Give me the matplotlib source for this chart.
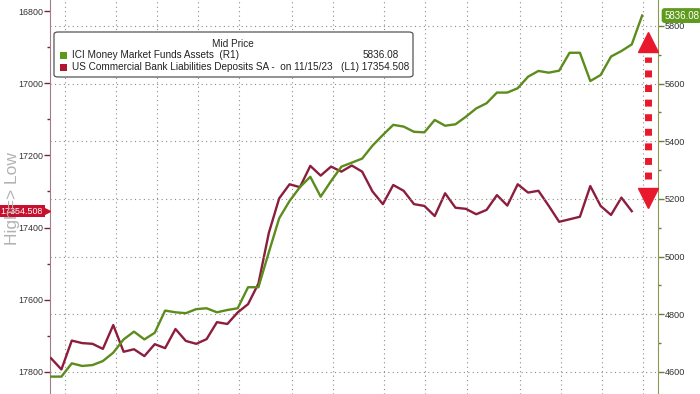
import numpy as np
import matplotlib
matplotlib.use("Agg")
import matplotlib.pyplot as plt
from matplotlib.patches import FancyBboxPatch

# weekly data
money_market = [4584, 4584, 4630, 4621, 4624, 4638, 4667, 4713, 4740, 4713,
                4736, 4813, 4807, 4804, 4818, 4821, 4807, 4815, 4821, 4894,
                4894, 5015, 5133, 5193, 5241, 5277, 5208, 5262, 5312, 5326,
                5340, 5385, 5422, 5457, 5451, 5433, 5431, 5474, 5454, 5459,
                5485, 5514, 5532, 5569, 5569, 5584, 5624, 5644, 5638, 5645,
                5707, 5707, 5609, 5630, 5694, 5713, 5736, 5836.08]
bank_deposits = [17762, 17793, 17713, 17720, 17722, 17736, 17670, 17744, 17737, 17756,
                 17723, 17734, 17681, 17714, 17722, 17709, 17662, 17667, 17635, 17612,
                 17555, 17415, 17319, 17280, 17288, 17229, 17256, 17231, 17245, 17228,
                 17245, 17300, 17335, 17282, 17298, 17335, 17340, 17368, 17305, 17345,
                 17348, 17363, 17351, 17310, 17339, 17280, 17303, 17298, 17340, 17384,
                 17377, 17370, 17285, 17340, 17365, 17317, 17354.508]

left_ticks = [16800, 17000, 17200, 17400, 17600, 17800]
right_ticks = [4600, 4800, 5000, 5200, 5400, 5600, 5800]
month_marks = [1.3, 6.25, 10.2, 14.2, 18.1, 23.2, 27.15, 32.1, 36.1, 40.1, 45.2, 49.2, 53.1, 57.1]

green = "#5b8c1c"
maroon = "#8c1d3d"
font = ["Liberation Sans", "DejaVu Sans"]
plt.rcParams["font.family"] = font

fig = plt.figure(figsize=(7, 3.94), dpi=100)
ax = fig.add_axes([50 / 700, 0, 608 / 700, 1])
ax2 = ax.twinx()

x_mm = np.arange(len(money_market))
x_bd = np.arange(len(bank_deposits))

ax.plot(x_bd, bank_deposits, color=maroon, lw=1.7, zorder=3)
ax2.plot(x_mm, money_market, color=green, lw=1.7, zorder=3)

ax.set_xlim(-0.1, 58.53)
ax.set_ylim(17861, 16769.5)  # inverted: high => low
ax2.set_ylim(4523.7, 5890)

# left axis
ax.set_yticks(left_ticks)
ax.set_yticks(np.arange(16800, 17801, 100), minor=True)
ax.tick_params(axis="y", which="major", direction="out", length=4, width=1,
               color="#7a2040", labelsize=6.4, labelcolor="#333333", pad=1)
ax.tick_params(axis="y", which="minor", direction="out", length=2.5, width=1,
               color="#7a2040")
ax.set_xticks(month_marks)
ax.tick_params(axis="x", length=0, labelbottom=False)
ax.grid(axis="x", color="#8c8c8c", linestyle=(0, (1, 3)), lw=0.8)

# right axis
ax2.set_yticks(right_ticks)
ax2.set_yticks(np.arange(4600, 5801, 100), minor=True)
ax2.tick_params(axis="y", which="major", direction="out", length=4, width=1,
                color="#6d7f35", labelsize=6.6, labelcolor="#333333", pad=1)
ax2.tick_params(axis="y", which="minor", direction="out", length=2.5, width=1,
                color="#6d7f35")
ax2.grid(axis="y", color="#8c8c8c", linestyle=(0, (1, 3)), lw=0.8)

for s in ["top", "bottom", "right"]:
    ax.spines[s].set_visible(False)
for s in ["top", "bottom", "left"]:
    ax2.spines[s].set_visible(False)
ax.spines["left"].set_color("#a67b88")
ax2.spines["right"].set_color("#8a9a50")

# axis note
fig.text(13 / 700, 1 - 199 / 394, "High=> Low", rotation=90, color="#b3b3b3",
         fontsize=12.5, ha="center", va="center")

# last value tags
ax.text(-0.011, bank_deposits[-1], f"{bank_deposits[-1]:.3f}", transform=ax.get_yaxis_transform(),
        ha="right", va="center", color="white", fontsize=6.4, clip_on=False, zorder=6,
        bbox=dict(boxstyle="square,pad=0.2", fc="#c8102e", ec="none"))
ax.plot([-0.006], [bank_deposits[-1]], marker=">", ms=6, color="#c8102e",
        transform=ax.get_yaxis_transform(), clip_on=False, zorder=6)
ax2.text(1.01, money_market[-1], f"{money_market[-1]:.2f}", transform=ax2.get_yaxis_transform(),
         ha="left", va="center", color="white", fontsize=7, clip_on=False,
         bbox=dict(boxstyle="round,pad=0.25,rounding_size=0.3", fc="#5f9a1e", ec="none"))

# red double arrow showing the gap
xa = 57.6
ax2.plot([xa, xa], [5270, 5692], color="#e8192c", lw=5,
         linestyle=(0, (1, 1.1)), solid_capstyle="butt", dash_capstyle="butt", zorder=4)
ax2.plot([xa], [5743], marker="^", ms=15, color="#e8192c", zorder=4, clip_on=False)
ax2.plot([xa], [5203], marker="v", ms=15, color="#e8192c", zorder=4, clip_on=False)

# legend box
box = FancyBboxPatch((54 / 700, 1 - 77 / 394), 359 / 700, 45 / 394,
                     boxstyle="round,pad=0,rounding_size=0.006", transform=fig.transFigure,
                     fc="white", ec="#555555", lw=0.9)
fig.patches.append(box)
fig.text(233 / 700, 1 - 44 / 394, "Mid Price", ha="center", va="center", fontsize=7.2, color="#222222")
fig.patches.append(FancyBboxPatch((60 / 700, 1 - 58.5 / 394), 7 / 700, 7 / 394,
                                  boxstyle="square,pad=0", transform=fig.transFigure,
                                  fc="#5a9a18", ec="none"))
fig.patches.append(FancyBboxPatch((60 / 700, 1 - 70.5 / 394), 7 / 700, 7 / 394,
                                  boxstyle="square,pad=0", transform=fig.transFigure,
                                  fc="#b0172f", ec="none"))
fig.text(72 / 700, 1 - 55 / 394, "ICI Money Market Funds Assets  (R1)",
         ha="left", va="center", fontsize=7.2, color="#222222")
fig.text(72 / 700, 1 - 67 / 394, "US Commercial Bank Liabilities Deposits SA -  on 11/15/23",
         ha="left", va="center", fontsize=7.2, color="#222222")
fig.text(399 / 700, 1 - 55 / 394, f"{money_market[-1]:.2f}",
         ha="right", va="center", fontsize=7.2, color="#222222")
fig.text(409 / 700, 1 - 67 / 394, f"(L1) {bank_deposits[-1]:.3f}",
         ha="right", va="center", fontsize=7.2, color="#222222")

fig.savefig("out.png", dpi=100)
